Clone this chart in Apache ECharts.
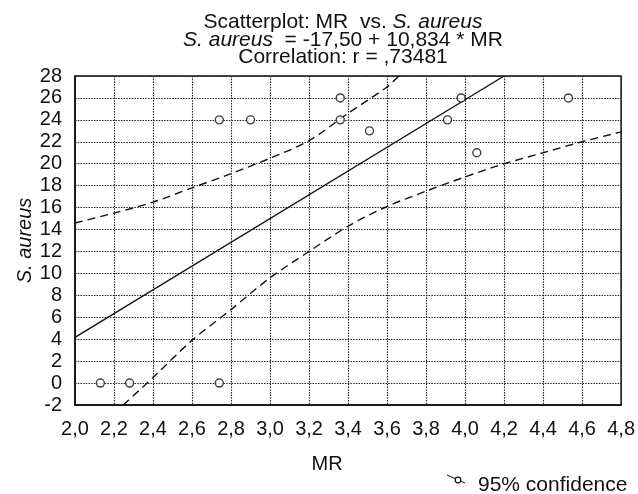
<!DOCTYPE html>
<html>
<head>
<meta charset="utf-8">
<script src="https://cdn.jsdelivr.net/npm/echarts@6/dist/echarts.min.js"></script>
<style>html,body{margin:0;padding:0;background:#fff}#c{width:638px;height:494px}</style>
</head>
<body>
<div id="c"></div>
<script>
// Observed points (MR, S. aureus)
const pointsMR = [2.13, 2.28, 2.74, 2.74, 2.90, 3.36, 3.36, 3.51, 3.91, 3.98, 4.06, 4.53];
const pointsSA = [0, 0, 0, 24, 24, 26, 24, 23, 24, 26, 21, 26];
// Regression line (read at its ends)
const fitMR = [2.0, 4.2];
const fitSA = [4.17, 28.0];
// Upper 95% confidence curve
const upperMR = [2.0, 2.2, 2.4, 2.6, 2.8, 3.0, 3.2, 3.4, 3.6, 3.66];
const upperSA = [14.6, 15.5, 16.5, 17.8, 19.1, 20.5, 22.1, 24.6, 27.0, 28.0];
// Lower 95% confidence curve
const lowerMR = [2.247, 2.4, 2.6, 2.8, 3.0, 3.2, 3.4, 3.6, 3.8, 4.0, 4.2, 4.4, 4.6, 4.8];
const lowerSA = [-2.0, 0.5, 3.9, 6.7, 9.6, 12.0, 14.3, 16.1, 17.5, 18.8, 20.0, 21.0, 22.0, 22.9];
// Axis ranges
const xMin = 2.0, xMax = 4.8, xStep = 0.2;
const yMin = -2, yMax = 28, yStep = 2;

const zip = (a, b) => a.map((v, i) => [v, b[i]]);
const FONT = '"Liberation Sans", Arial, sans-serif';
const ink = '#111';

const chart = echarts.init(document.getElementById('c'), null, {renderer: 'canvas'});
chart.setOption({
  animation: false,
  backgroundColor: '#fff',
  grid: {left: 75, right: 16, top: 76, bottom: 89, show: true, borderColor: ink, borderWidth: 1.5},
  xAxis: {
    type: 'value', min: xMin, max: xMax, interval: xStep,
    name: 'MR', nameLocation: 'middle', nameGap: 49, nameMoveOverlap: false,
    nameTextStyle: {fontFamily: FONT, fontSize: 20, color: ink, padding: [0, 42, 0, 0]},
    axisLine: {show: true, onZero: false, lineStyle: {color: ink, width: 1.5}},
    axisTick: {show: false},
    axisLabel: {fontFamily: FONT, fontSize: 20, color: ink, margin: 14,
      formatter: v => v.toFixed(1).replace('.', ',')},
    splitLine: {show: true, lineStyle: {color: '#222', type: [1.5, 1.2], width: 1.1}}
  },
  yAxis: {
    type: 'value', min: yMin, max: yMax, interval: yStep,
    name: 'S. aureus', nameLocation: 'middle', nameGap: 40, nameMoveOverlap: false,
    nameTextStyle: {fontFamily: FONT, fontSize: 20, color: ink, fontStyle: 'italic'},
    axisLine: {show: true, onZero: false, lineStyle: {color: ink, width: 1.5}},
    axisTick: {show: false},
    axisLabel: {fontFamily: FONT, fontSize: 20, color: ink, margin: 13},
    splitLine: {show: true, lineStyle: {color: '#222', type: [1.5, 1.2], width: 1.1}}
  },
  graphic: [
    {type: 'text', x: 343, y: 22, style: {
      text: '{n|Scatterplot: MR  vs. }{i|S. aureus}', align: 'center', verticalAlign: 'middle',
      rich: {n: {fontFamily: FONT, fontSize: 21, fill: ink}, i: {fontFamily: FONT, fontSize: 21, fontStyle: 'italic', fill: ink}}}},
    {type: 'text', x: 343, y: 40, style: {
      text: '{i|S. aureus}{n|  = -17,50 + 10,834 * MR}', align: 'center', verticalAlign: 'middle',
      rich: {n: {fontFamily: FONT, fontSize: 21, fill: ink}, i: {fontFamily: FONT, fontSize: 21, fontStyle: 'italic', fill: ink}}}},
    {type: 'text', x: 343, y: 57, style: {
      text: 'Correlation: r = ,73481', align: 'center', verticalAlign: 'middle',
      fontFamily: FONT, fontSize: 21, fill: ink}},
    {type: 'line', shape: {x1: 447, y1: 475, x2: 465, y2: 483}, style: {stroke: ink, lineWidth: 1}},
    {type: 'circle', shape: {cx: 458, cy: 480, r: 2.8}, style: {fill: '#fff', stroke: ink, lineWidth: 1.2}},
    {type: 'text', x: 478, y: 485, style: {text: '95% confidence', verticalAlign: 'middle',
      fontFamily: FONT, fontSize: 21, fill: ink}}
  ],
  series: [
    {type: 'line', data: zip(fitMR, fitSA), symbol: 'none', clip: true,
      lineStyle: {color: ink, width: 1.4}, z: 3},
    {type: 'line', data: zip(upperMR, upperSA), symbol: 'none', smooth: 0.3, clip: true,
      lineStyle: {color: ink, width: 1.4, type: [8, 5]}, z: 3},
    {type: 'line', data: zip(lowerMR, lowerSA), symbol: 'none', smooth: 0.3, clip: true,
      lineStyle: {color: ink, width: 1.4, type: [8, 5]}, z: 3},
    {type: 'scatter', data: zip(pointsMR, pointsSA), symbol: 'circle', symbolSize: 8,
      itemStyle: {color: '#fff', borderColor: ink, borderWidth: 1.4}, z: 5}
  ]
});
</script>
</body>
</html>
